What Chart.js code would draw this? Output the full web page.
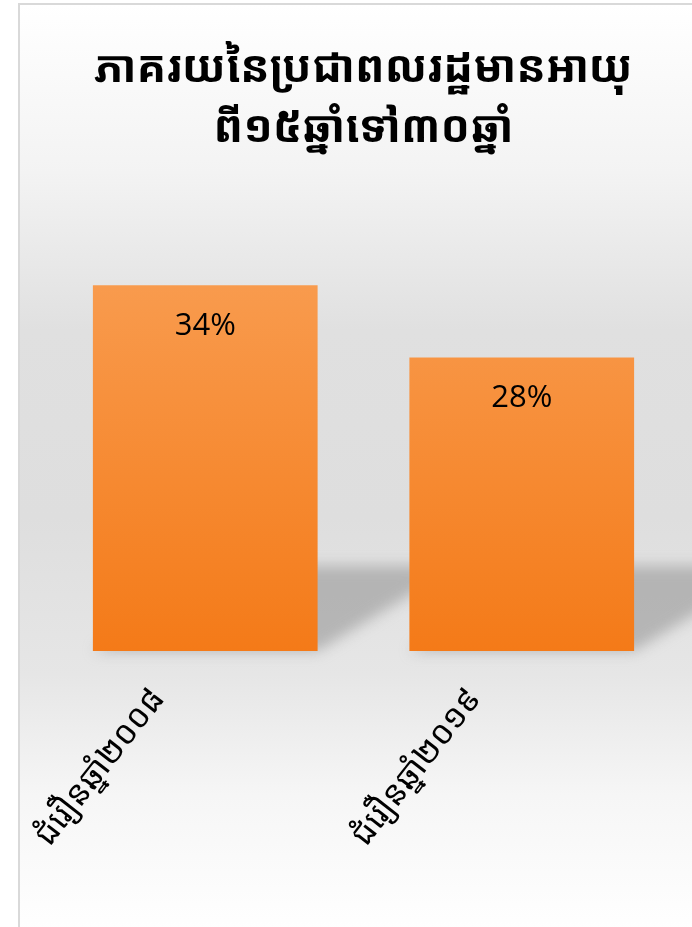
<!DOCTYPE html>
<html><head><meta charset="utf-8">
<script src="https://cdn.jsdelivr.net/npm/chart.js@4/dist/chart.umd.min.js"></script>
<style>
html,body{margin:0;padding:0;background:#fff;width:692px;height:927px;overflow:hidden;}
#frame{position:absolute;left:18px;top:3px;width:680px;height:930px;border-left:2px solid #d9d9d9;border-top:2px solid #d9d9d9;
background:linear-gradient(to bottom,#ffffff 0%,#f3f3f3 18%,#e0e0e0 35%,#dedede 55%,#e6e6e6 72%,#f6f6f6 85%,#ffffff 100%);}
canvas{display:block;}
</style></head><body>
<div id="frame"><canvas id="c" width="672" height="922"></canvas></div>
<script>
const titleLines = ["ភាគរយនៃប្រជាពលរដ្ឋមានអាយុ", "ពី១៥ឆ្នាំទៅ៣០ឆ្នាំ"];
const categories = ["ជំរឿនឆ្នាំ២០០៨", "ជំរឿនឆ្នាំ២០១៩"];
const values = [34.4, 27.6];
const khmerFont = "'Noto Sans Khmer','Khmer OS','Khmer OS System','Noto Sans','DejaVu Sans',sans-serif";

const shadowPlugin = {
  id: 'shadow',
  beforeDatasetsDraw(chart) {
    const ctx = chart.ctx;
    const meta = chart.getDatasetMeta(0);
    ctx.save();
    ctx.filter = 'blur(7px)';
    meta.data.forEach(bar => {
      const left = bar.x - bar.width / 2, right = bar.x + bar.width / 2, base = bar.base;
      const h = 85, dx = 140;
      ctx.fillStyle = 'rgba(150,150,150,0.6)';
      ctx.beginPath();
      ctx.moveTo(left, base);
      ctx.lineTo(right, base);
      ctx.lineTo(right + dx, base - h);
      ctx.lineTo(left + dx, base - h);
      ctx.closePath();
      ctx.fill();
    });
    ctx.restore();
  }
};
const labelPlugin = {
  id: 'vals',
  afterDatasetsDraw(chart) {
    const ctx = chart.ctx;
    const meta = chart.getDatasetMeta(0);
    ctx.save();
    ctx.font = "31px 'Open Sans','Noto Sans',sans-serif";
    ctx.fillStyle = '#000';
    ctx.textAlign = 'center';
    ctx.textBaseline = 'middle';
    meta.data.forEach((bar, i) => {
      ctx.fillText(Math.round(values[i]) + '%', bar.x, bar.y + 41);
    });
    ctx.restore();
  }
};

new Chart(document.getElementById('c'), {
  type: 'bar',
  data: {
    labels: categories,
    datasets: [{
      data: values,
      backgroundColor: (c) => {
        const a = c.chart.chartArea;
        if (!a) return '#f58a30';
        const g = c.chart.ctx.createLinearGradient(0, a.top, 0, a.bottom);
        g.addColorStop(0, '#f9a056');
        g.addColorStop(1, '#f47a18');
        return g;
      },
      borderWidth: 0,
      categoryPercentage: 1,
      barPercentage: 0.71
    }]
  },
  options: {
    responsive: false,
    animation: false,
    layout: { padding: { left: 27, right: 12, top: 35, bottom: 51 } },
    plugins: {
      legend: { display: false },
      tooltip: { enabled: false },
      title: {
        display: true,
        text: titleLines,
        color: '#000',
        font: { size: 44, family: khmerFont, weight: 'bold', lineHeight: 1.36 },
        padding: { top: 0, bottom: 66 }
      }
    },
    scales: {
      x: {
        grid: { display: false },
        border: { display: false },
        ticks: {
          color: '#000',
          font: { size: 33, family: khmerFont },
          maxRotation: 52, minRotation: 52,
          autoSkip: false,
          labelOffset: -47,
          padding: 22
        }
      },
      y: {
        display: false,
        min: 0, max: 40
      }
    }
  },
  plugins: [shadowPlugin, labelPlugin]
});
</script>
</body></html>
